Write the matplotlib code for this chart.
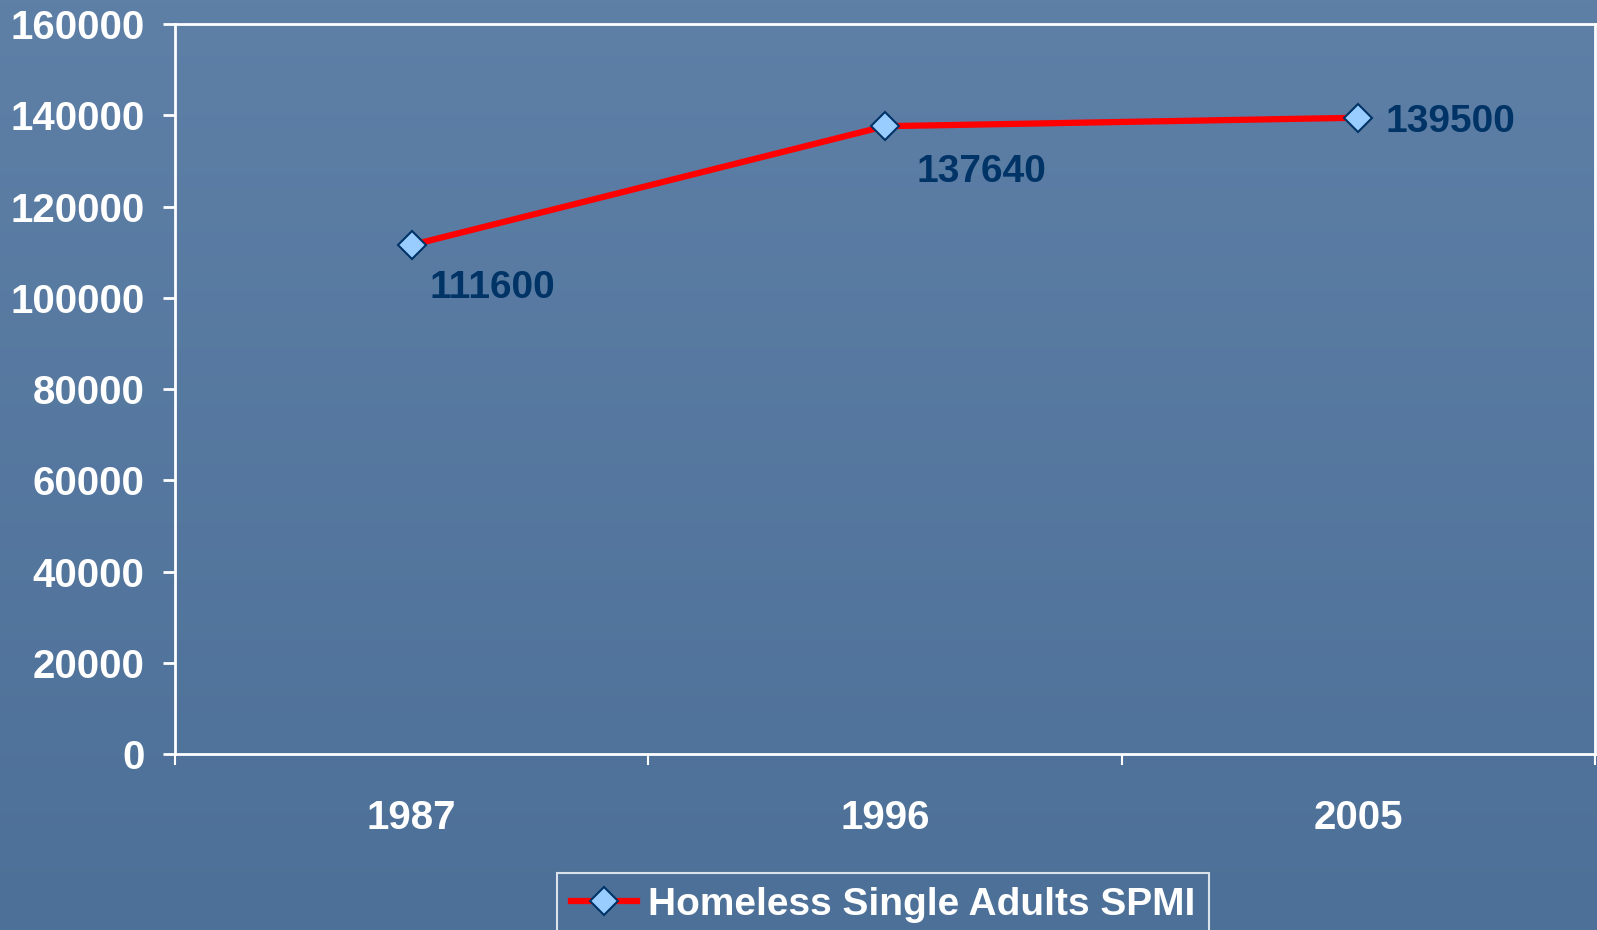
import numpy as np
import matplotlib
matplotlib.use("Agg")
import matplotlib.pyplot as plt
from matplotlib.ticker import FixedLocator

# data
years = ["1987", "1996", "2005"]
homeless_spmi = [111600, 137640, 139500]
y_ticks = [0, 20000, 40000, 60000, 80000, 100000, 120000, 140000, 160000]
series_name = "Homeless Single Adults SPMI"

plt.rcParams['font.family'] = ['Liberation Sans', 'DejaVu Sans']
plt.rcParams['font.weight'] = 'bold'

fig = plt.figure(figsize=(15.97, 9.30), dpi=100)

# blue slide background (simple vertical gradient)
bg = fig.add_axes([0, 0, 1, 1], zorder=-10)
grad = np.linspace(0, 1, 256).reshape(-1, 1)
top_col = np.array([0x5e, 0x80, 0xa7]) / 255
bot_col = np.array([0x4d, 0x70, 0x98]) / 255
img = top_col + (bot_col - top_col) * grad[..., None]
bg.imshow(img, aspect='auto', extent=[0, 1, 0, 1])
bg.axis("off")

ax = fig.add_axes([0.1096, 0.189, 0.8892, 0.785])
ax.patch.set_alpha(0)

x = np.arange(len(years))
ax.plot(x, homeless_spmi, color="#ff0000", lw=4.5, marker="D", markersize=14,
        markerfacecolor="#99ccff", markeredgecolor="#003366", markeredgewidth=1.5,
        label=series_name, zorder=3)

# data labels
offsets = [(18, -43), (31, -46), (27, -4)]
for xi, val, off in zip(x, homeless_spmi, offsets):
    ax.annotate(str(val), (xi, val), xytext=off, textcoords="offset pixels",
                ha="left", va="center", fontsize=28, color="#003366",
                fontweight="bold")

ax.set_xlim(-0.5, 2.5)
ax.set_ylim(0, 160000)
ax.set_yticks(y_ticks)
ax.set_yticklabels([str(v) for v in y_ticks])
ax.set_xticks(x)
ax.set_xticklabels(years)
ax.xaxis.set_minor_locator(FixedLocator([-0.5, 0.5, 1.5, 2.5]))

for s in ax.spines.values():
    s.set_color("white")
    s.set_linewidth(2)

ax.tick_params(axis="y", colors="white", labelsize=29, length=9, width=2, pad=13)
ax.tick_params(axis="x", which="major", colors="white", labelsize=29, length=0, pad=32)
ax.tick_params(axis="x", which="minor", colors="white", length=8, width=1.5)
for lab in ax.get_xticklabels() + ax.get_yticklabels():
    lab.set_fontweight("bold")

leg = fig.legend(loc="upper left", bbox_to_anchor=(557 / 1597, 1 - 873 / 930),
                 frameon=True, fancybox=False, fontsize=28, handlelength=1.7,
                 handletextpad=0.3, borderpad=0.35, borderaxespad=0)
leg.get_frame().set_facecolor("none")
leg.get_frame().set_edgecolor("white")
leg.get_frame().set_linewidth(1.5)
for t in leg.get_texts():
    t.set_color("white")
    t.set_fontweight("bold")

fig.savefig("out.png", dpi=100)
